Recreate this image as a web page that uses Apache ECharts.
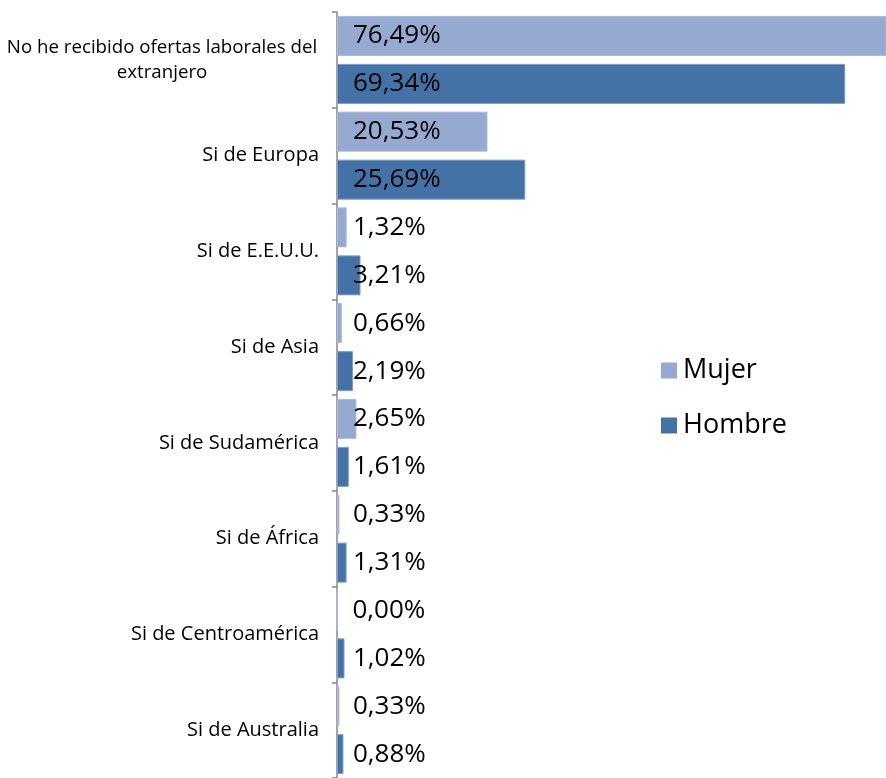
<!DOCTYPE html>
<html>
<head>
<meta charset="utf-8">
<script src="https://cdn.jsdelivr.net/npm/echarts@6/dist/echarts.min.js"></script>
<style>
  html, body { margin: 0; padding: 0; background: #fff; }
  #chart { width: 886px; height: 778px; }
</style>
</head>
<body>
<div id="chart"></div>
<script>
const categories = [
  'No he recibido ofertas laborales del\nextranjero',
  'Si de Europa',
  'Si de E.E.U.U.',
  'Si de Asia',
  'Si de Sudamérica',
  'Si de África',
  'Si de Centroamérica',
  'Si de Australia'
];
const mujer = [76.49, 20.53, 1.32, 0.66, 2.65, 0.33, 0.00, 0.33];
const hombre = [69.34, 25.69, 3.21, 2.19, 1.61, 1.31, 1.02, 0.88];

const chart = echarts.init(document.getElementById('chart'));

function pct(p) {
  return p.value.toFixed(2).replace('.', ',') + '%';
}

const barLabel = {
  show: true,
  position: 'insideLeft',
  distance: 16,
  color: '#000',
  fontFamily: 'Open Sans',
  fontSize: 26,
  formatter: pct
};

// the plot area runs past the right edge, so the first bar is cut off there
let option = {
  backgroundColor: '#fff',
  animation: false,
  grid: {
    left: 337,
    top: 12,
    right: 0,
    height: 769
  },
  legend: {
    orient: 'vertical',
    left: 656,
    top: 352,
    itemWidth: 16,
    itemHeight: 16,
    itemGap: 28,
    icon: 'rect',
    itemStyle: { borderWidth: 0 },
    textStyle: {
      fontFamily: 'Open Sans',
      fontSize: 27,
      color: '#000',
      padding: [0, 0, 0, 1]
    },
    data: ['Mujer', 'Hombre']
  },
  xAxis: {
    type: 'value',
    min: 0,
    max: 74.9,
    show: false,
    splitLine: { show: false }
  },
  yAxis: {
    type: 'category',
    inverse: true,
    data: categories,
    axisLine: { show: true, lineStyle: { color: '#878787', width: 1.5 } },
    axisTick: { show: true, interval: 0, length: 5, lineStyle: { color: '#878787', width: 1.5 } },
    axisLabel: {
      margin: 18,
      color: '#000',
      fontFamily: 'Open Sans',
      fontSize: 20,
      formatter: function (v, i) {
        if (i === 0) {
          return v.split('\n').map(s => '{c|' + s + '}').join('\n');
        }
        return v;
      },
      rich: {
        c: { width: 314, align: 'center', fontFamily: 'Open Sans', fontSize: 18.7, color: '#000', lineHeight: 25 }
      }
    }
  },
  series: [
    {
      name: 'Mujer',
      type: 'bar',
      data: mujer,
      barWidth: 40,
      barGap: '20%',
      itemStyle: { color: '#95A9D1', borderColor: '#A9BADB', borderWidth: 1 },
      label: barLabel
    },
    {
      name: 'Hombre',
      type: 'bar',
      data: hombre,
      barWidth: 40,
      itemStyle: { color: '#4472A6', borderColor: '#7F9CC6', borderWidth: 1 },
      label: barLabel
    }
  ]
};

option && chart.setOption(option);
</script>
</body>
</html>
